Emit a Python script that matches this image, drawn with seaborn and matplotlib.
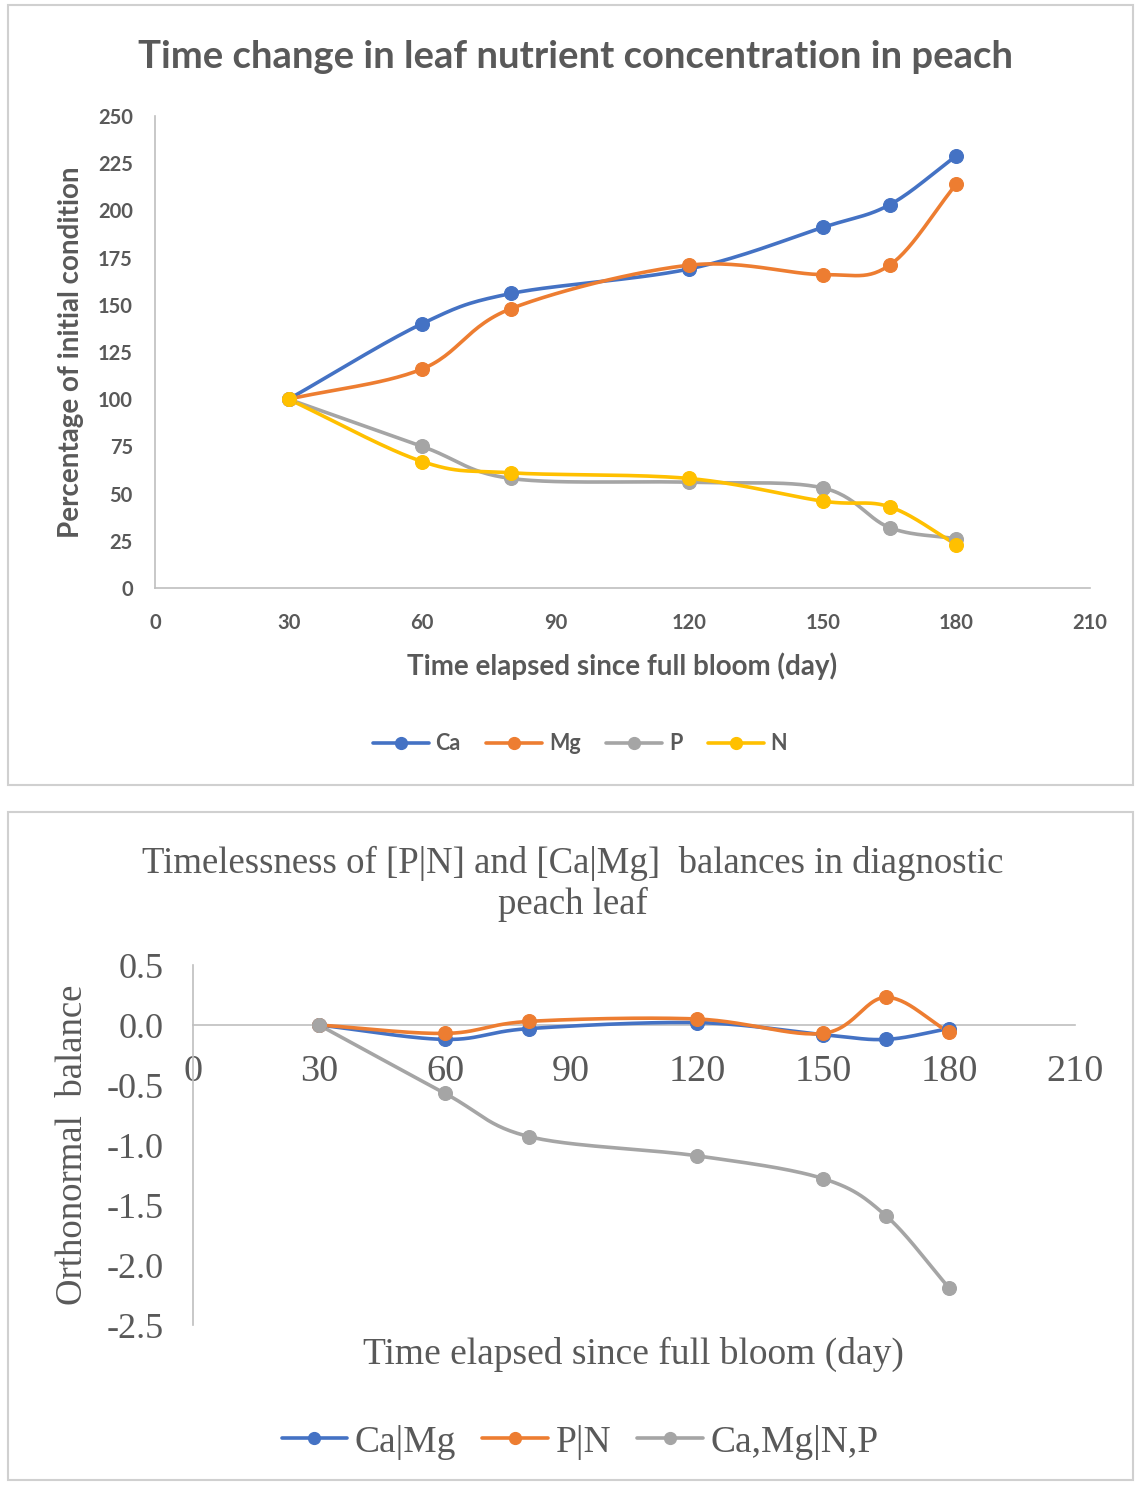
import numpy as np
import matplotlib
matplotlib.use("Agg")
import matplotlib.pyplot as plt
from matplotlib.lines import Line2D
from matplotlib.patches import Rectangle
import seaborn as sns

# ---- data ----
days = [30, 60, 80, 120, 150, 165, 180]

ca = [100, 140, 156, 169, 191, 203, 229]
mg = [100, 116, 148, 171, 166, 171, 214]
p = [100, 75, 58, 56, 53, 32, 26]
n = [100, 67, 61, 58, 46, 43, 23]

ca_mg = [0.0, -0.12, -0.03, 0.02, -0.08, -0.12, -0.03]
p_n = [0.0, -0.07, 0.03, 0.05, -0.07, 0.23, -0.06]
camg_np = [0.0, -0.57, -0.93, -1.09, -1.28, -1.59, -2.19]

top_names = ["Ca", "Mg", "P", "N"]
bottom_names = ["Ca|Mg", "P|N", "Ca,Mg|N,P"]

BLUE, ORANGE, GREY, YELLOW = "#4472C4", "#ED7D31", "#A5A5A5", "#FFC000"
TXT = "#595959"


def smooth(x, y, steps=30):
    # Catmull-Rom curve like Excel's "smoothed line"
    x = np.asarray(x, float)
    y = np.asarray(y, float)
    px = np.r_[2 * x[0] - x[1], x, 2 * x[-1] - x[-2]]
    py = np.r_[2 * y[0] - y[1], y, 2 * y[-1] - y[-2]]
    xs, ys = [], []
    t = np.linspace(0, 1, steps)
    for i in range(1, len(px) - 2):
        for arr, out in ((px, xs), (py, ys)):
            p0, p1, p2, p3 = arr[i - 1:i + 3]
            out.extend(0.5 * ((2 * p1) + (-p0 + p2) * t
                              + (2 * p0 - 5 * p1 + 4 * p2 - p3) * t ** 2
                              + (-p0 + 3 * p1 - 3 * p2 + p3) * t ** 3))
    return np.array(xs), np.array(ys)


def draw_series(ax, y, color, lw, ms):
    sx, sy = smooth(days, y)
    ax.plot(sx, sy, color=color, lw=lw, zorder=3)
    sns.scatterplot(x=days, y=y, color=color, s=ms, edgecolor=color, ax=ax, zorder=4)


sns.set_theme(style="white")
plt.rcParams["axes.unicode_minus"] = False

fig = plt.figure(figsize=(11.35, 14.87), dpi=100)
W, H = 1135, 1487

# panel frames
for x0, y0, x1, y1 in [(8, 5, 1133, 785), (8, 812, 1133, 1480)]:
    fig.add_artist(Rectangle((x0 / W, 1 - y1 / H), (x1 - x0) / W, (y1 - y0) / H,
                             transform=fig.transFigure, fill=False,
                             edgecolor="#D0D0D0", lw=1.5))

# ================= top chart =================
sans = "Lato"
ax1 = fig.add_axes([155 / W, 1 - 588 / H, (1090 - 155) / W, (588 - 116) / H])
for y, c in zip([ca, mg, p, n], [BLUE, ORANGE, GREY, YELLOW]):
    draw_series(ax1, y, c, 2.6, 100)

ax1.set_xlim(0, 210)
ax1.set_ylim(0, 250)
ax1.set_xticks(range(0, 211, 30))
ax1.set_yticks(range(0, 251, 25))
for s in ["top", "right"]:
    ax1.spines[s].set_visible(False)
for s in ["left", "bottom"]:
    ax1.spines[s].set_color("#BFBFBF")
    ax1.spines[s].set_linewidth(1.2)
ax1.tick_params(axis="x", direction="inout", length=10, color="#BFBFBF", pad=13,
                labelsize=14.5, labelcolor=TXT)
ax1.tick_params(axis="y", length=0, pad=16, labelsize=14.5, labelcolor=TXT)
for lab in ax1.get_xticklabels() + ax1.get_yticklabels():
    lab.set_fontfamily(sans)
    lab.set_fontweight("bold")
ax1.set_xlabel("Time elapsed since full bloom (day)", fontsize=20, fontweight="bold",
               color=TXT, family=sans, labelpad=14)
ax1.set_ylabel("Percentage of initial condition", fontsize=20, fontweight="bold",
               color=TXT, family=sans, labelpad=10)
fig.text(576 / W, 1 - 57 / H, "Time change in leaf nutrient concentration in peach",
         ha="center", va="center", fontsize=27.5, fontweight="bold", color=TXT, family=sans)

h1 = [Line2D([], [], color=c, lw=2.6, marker="o", ms=8.5)
      for c in [BLUE, ORANGE, GREY, YELLOW]]
fig.legend(h1, top_names, loc="center", bbox_to_anchor=(580 / W, 1 - 744 / H), ncol=4,
           frameon=False, handlelength=2.6, columnspacing=1.2, handletextpad=0.3,
           prop={"family": sans, "weight": "bold", "size": 15.5}, labelcolor=TXT)

# ================= bottom chart =================
serif = "Liberation Serif"
ax2 = fig.add_axes([193 / W, 1 - 1325 / H, (1075 - 193) / W, (1325 - 965) / H])
for y, c in zip([ca_mg, p_n, camg_np], [BLUE, ORANGE, GREY]):
    draw_series(ax2, y, c, 2.6, 100)

ax2.set_xlim(0, 210)
ax2.set_ylim(-2.5, 0.5)
ax2.set_xticks(range(0, 211, 30))
ax2.set_yticks(np.arange(-2.5, 0.51, 0.5))
ax2.yaxis.set_major_formatter(matplotlib.ticker.FormatStrFormatter("%.1f"))
for s in ["top", "right"]:
    ax2.spines[s].set_visible(False)
ax2.spines["bottom"].set_position(("data", 0))
for s in ["left", "bottom"]:
    ax2.spines[s].set_color("#BFBFBF")
    ax2.spines[s].set_linewidth(1.2)
ax2.tick_params(axis="x", length=0, pad=21, labelsize=27.5, labelcolor=TXT)
ax2.tick_params(axis="y", direction="out", length=7, color="#BFBFBF", pad=14,
                labelsize=26, labelcolor=TXT)
for lab in ax2.get_xticklabels() + ax2.get_yticklabels():
    lab.set_fontfamily(serif)
ax2.set_ylabel("Orthonormal  balance", fontsize=26.5, color=TXT, family=serif, labelpad=12)
fig.text(633 / W, 1 - 1354 / H, "Time elapsed since full bloom (day)",
         ha="center", va="center", fontsize=27, color=TXT, family=serif)
fig.text(573 / W, 1 - 884 / H,
         "Timelessness of [P|N] and [Ca|Mg]  balances in diagnostic\npeach leaf",
         ha="center", va="center", fontsize=26.5, color=TXT, family=serif, linespacing=1.2)

h2 = [Line2D([], [], color=c, lw=2.6, marker="o", ms=8.5) for c in [BLUE, ORANGE, GREY]]
fig.legend(h2, bottom_names, loc="center", bbox_to_anchor=(580 / W, 1 - 1442 / H), ncol=3,
           frameon=False, handlelength=1.75, columnspacing=0.7, handletextpad=0.2,
           prop={"family": serif, "size": 27}, labelcolor=TXT)

fig.savefig("out.png", dpi=100, facecolor="white")
